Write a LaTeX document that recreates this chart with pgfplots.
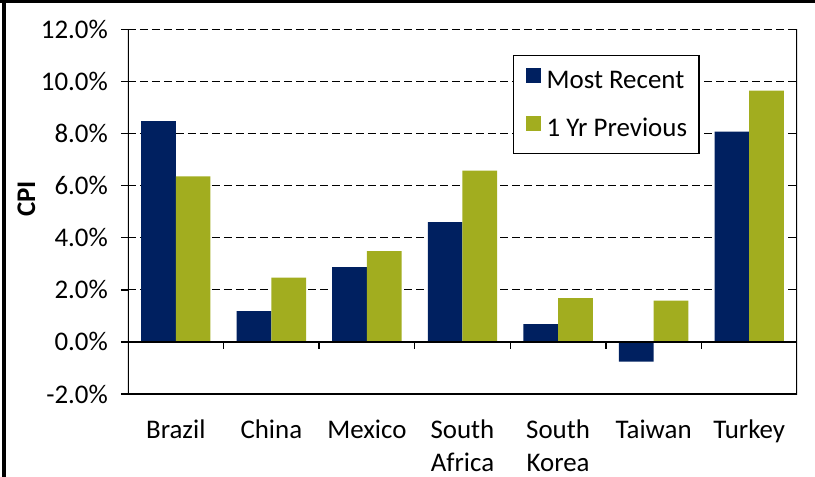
\documentclass[border=0pt]{standalone}
\usepackage{fontspec}
\setmainfont{Carlito}
\usepackage{pgfplots}
\pgfplotsset{compat=1.18}
\definecolor{navy}{RGB}{0,32,96}
\definecolor{olive}{RGB}{162,173,31}

\begin{document}
\begin{tikzpicture}[font=\fontsize{27}{33}\selectfont]
\useasboundingbox (-128bp,-83bp) rectangle (687bp,394bp);
\begin{axis}[
  at={(0,0)}, anchor=south west,
  width=669bp, height=364.5bp, scale only axis,
  xmin=-0.5, xmax=6.5, ymin=-2, ymax=12,
  ybar=0pt, bar width=34.7bp,
  xtick={0,...,6},
  xticklabels={Brazil, China, Mexico, {South\\Africa}, {South\\Korea}, Taiwan, Turkey},
  xticklabel style={align=center, inner sep=0pt, anchor=north, yshift=-19bp},
  major x tick style={draw=none},
  ytick={-2,0,...,12},
  yticklabel={\pgfmathprintnumber[fixed,fixed zerofill,precision=1]{\tick}\%},
  /pgf/number format/assume math mode=true,
  yticklabel style={inner sep=0pt, xshift=-13bp},
  ytick pos=left, tick align=outside, major tick length=7bp,
  every tick/.style={black, line width=1.3bp},
  ymajorgrids,
  major grid style={black, line width=1.2bp, dash pattern=on 8bp off 4bp},
  axis line style={draw=none},
  ylabel={\bfseries CPI},
  every axis y label/.style={at={([xshift=-101.5bp]rel axis cs:0,0.535)}, rotate=90, anchor=center},
  legend entries={Most Recent, 1 Yr Previous},
  legend cell align=left,
  legend style={at={(0.5755,0.930)}, anchor=north west, draw=black, line width=1.2bp,
    fill=white, inner xsep=12bp, inner ysep=12.5bp, row sep=23bp, column sep=6bp,
    nodes={inner sep=0pt, text height=19bp, text depth=5bp}},
  legend image code/.code={\fill[#1] (0bp,-2bp) rectangle (15bp,13bp);},
]
\addplot[fill=navy, draw=none] coordinates {(0,8.48) (1,1.18) (2,2.87) (3,4.60) (4,0.68) (5,-0.76) (6,8.08)};
\addplot[fill=olive, draw=none] coordinates {(0,6.36) (1,2.47) (2,3.49) (3,6.58) (4,1.68) (5,1.59) (6,9.65)};
\draw[black, line width=1.5bp] (rel axis cs:0,1) -- (rel axis cs:0,0) -- (rel axis cs:1,0) -- (rel axis cs:1,1);
\draw[black, line width=2bp] (axis cs:-0.5,0) -- (axis cs:6.5,0);
\draw[black, line width=1.3bp] (axis cs:0.5,0) -- ([yshift=-7bp]axis cs:0.5,0);
\draw[black, line width=1.3bp] (axis cs:1.5,0) -- ([yshift=-7bp]axis cs:1.5,0);
\draw[black, line width=1.3bp] (axis cs:2.5,0) -- ([yshift=-7bp]axis cs:2.5,0);
\draw[black, line width=1.3bp] (axis cs:3.5,0) -- ([yshift=-7bp]axis cs:3.5,0);
\draw[black, line width=1.3bp] (axis cs:4.5,0) -- ([yshift=-7bp]axis cs:4.5,0);
\draw[black, line width=1.3bp] (axis cs:5.5,0) -- ([yshift=-7bp]axis cs:5.5,0);
\end{axis}
\draw[black, line width=3bp] (-128bp,392.5bp) -- (687bp,392.5bp);
\draw[black, line width=3.5bp] (-124bp,394bp) -- (-124bp,-83bp);
\end{tikzpicture}
\end{document}
